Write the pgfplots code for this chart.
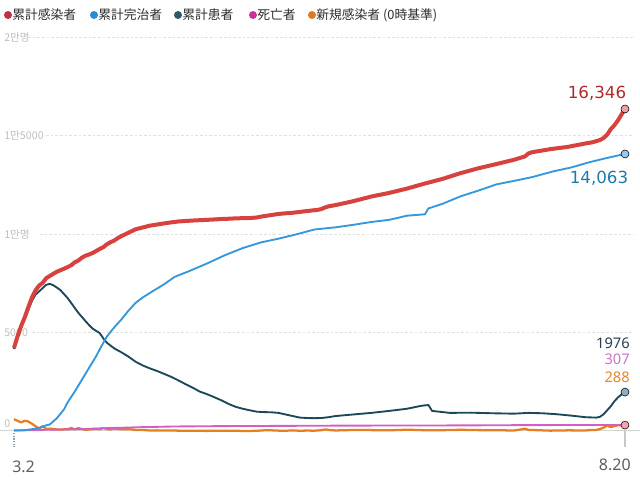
\documentclass[border=0pt]{standalone}
\usepackage{pgfplots}
\pgfplotsset{compat=1.18}
\usepackage{fontspec}
\setmainfont{Noto Sans}
\newfontfamily\jp{Noto Sans CJK JP}
\newfontfamily\kr{Noto Sans CJK KR}
\newfontfamily\dv{DejaVu Sans}
\definecolor{cRed}{RGB}{215,65,62}
\definecolor{cRedL}{RGB}{178,40,45}
\definecolor{cBlue}{RGB}{52,152,219}
\definecolor{cBlueL}{RGB}{31,122,172}
\definecolor{cDark}{RGB}{28,72,90}
\definecolor{cDarkL}{RGB}{40,62,80}
\definecolor{cPink}{RGB}{210,95,195}
\definecolor{cPinkL}{RGB}{205,115,200}
\definecolor{cOrange}{RGB}{230,126,34}
\definecolor{cOrangeL}{RGB}{225,135,45}
\definecolor{dRed}{RGB}{190,50,70}
\definecolor{dBlue}{RGB}{40,140,210}
\definecolor{dTeal}{RGB}{45,90,105}
\definecolor{dMag}{RGB}{200,50,160}
\definecolor{dOr}{RGB}{225,120,30}
\definecolor{gridc}{RGB}{225,225,225}
\definecolor{basec}{RGB}{210,210,210}
\definecolor{labc}{RGB}{190,190,190}
\definecolor{tickA}{RGB}{140,160,175}
\definecolor{tickB}{RGB}{200,200,200}
\definecolor{axtext}{RGB}{95,95,95}
\definecolor{legtext}{RGB}{45,45,45}
\definecolor{mRed}{RGB}{240,160,160}
\definecolor{mBlue}{RGB}{150,200,240}
\definecolor{mDark}{RGB}{140,175,200}
\definecolor{mPink}{RGB}{240,165,175}
\begin{document}
\begin{tikzpicture}
\path[use as bounding box, x=0.75pt, y=0.75pt] (0,0) rectangle (640,480);
\begin{scope}[x=0.75pt, y=0.75pt]
\draw[gridc, line width=0.75pt, dash pattern=on 2pt off 1.5pt] (28,443) -- (634,443);
\draw[gridc, line width=0.75pt, dash pattern=on 2pt off 1.5pt] (46,344.5) -- (634,344.5);
\draw[gridc, line width=0.75pt, dash pattern=on 2pt off 1.5pt] (40,246) -- (634,246);
\draw[gridc, line width=0.75pt, dash pattern=on 2pt off 1.5pt] (32,147.5) -- (634,147.5);
\draw[basec, line width=0.8pt] (0,49.5) -- (640,49.5);
\node[anchor=west, inner sep=0, text=labc, font=\kr\fontsize{8pt}{8.5pt}\selectfont] at (4,443) {2만명};
\node[anchor=west, inner sep=0, text=labc, font=\kr\fontsize{8pt}{8.5pt}\selectfont] at (4,344.5) {1만5000};
\node[anchor=west, inner sep=0, text=labc, font=\kr\fontsize{8pt}{8.5pt}\selectfont] at (4,246) {1만명};
\node[anchor=west, inner sep=0, text=labc, font=\kr\fontsize{8pt}{8.5pt}\selectfont] at (4,147.5) {5000};
\node[anchor=west, inner sep=0, text=labc, font=\kr\fontsize{8pt}{8.5pt}\selectfont] at (4,56) {0};
\draw[tickA, line width=0.9pt, dash pattern=on 1pt off 1pt] (14,47) -- (14,33);
\draw[tickB, line width=0.9pt] (625,49) -- (625,33);
\node[anchor=west, inner sep=0, text=axtext, font=\fontsize{12pt}{13pt}\selectfont] at (12,13) {3.2};
\node[anchor=east, inner sep=0, text=axtext, font=\fontsize{12pt}{13pt}\selectfont] at (631,15) {8.20};
\fill[dRed] (8,465) circle (4);
\node[anchor=west, inner sep=0, text=legtext, font=\jp\fontsize{9.6pt}{10pt}\selectfont] at (12,465) {累計感染者};
\fill[dBlue] (94,465) circle (4);
\node[anchor=west, inner sep=0, text=legtext, font=\jp\fontsize{9.6pt}{10pt}\selectfont] at (98,465) {累計完治者};
\fill[dTeal] (178,465) circle (4);
\node[anchor=west, inner sep=0, text=legtext, font=\jp\fontsize{9.6pt}{10pt}\selectfont] at (182,465) {累計患者};
\fill[dMag] (253,465) circle (4);
\node[anchor=west, inner sep=0, text=legtext, font=\jp\fontsize{9.6pt}{10pt}\selectfont] at (257,465) {死亡者};
\fill[dOr] (312,465) circle (4);
\node[anchor=west, inner sep=0, text=legtext, font=\jp\fontsize{9.6pt}{10pt}\selectfont] at (316,465) {新規感染者 (0時基準)};
\node[inner sep=0, text=cRedL, font=\dv\fontsize{12.5pt}{13pt}\selectfont] at (597,387) {16,346};
\node[inner sep=0, text=cBlueL, font=\dv\fontsize{12.5pt}{13pt}\selectfont] at (599,302) {14,063};
\node[anchor=east, inner sep=0, text=cDarkL, font=\fontsize{11pt}{12pt}\selectfont] at (630,137) {1976};
\node[anchor=east, inner sep=0, text=cPinkL, font=\fontsize{11pt}{12pt}\selectfont] at (630,121) {307};
\node[anchor=east, inner sep=0, text=cOrangeL, font=\fontsize{11pt}{12pt}\selectfont] at (630,103) {288};
\end{scope}
\begin{axis}[at={(10.5pt,36.75pt)}, anchor=south west, scale only axis,
  width=458.25pt, height=295.5pt, xmin=0, xmax=171, ymin=0, ymax=20000,
  axis lines=none, xtick=\empty, ytick=\empty, clip=false]
\addplot[cOrange, line width=1.7pt, line join=round] coordinates {
(0,600)(1,516)(2,438)(3,518)(4,483)(5,367)(6,248)(7,131)(8,242)(9,114)(10,110)(11,107)(12,76)(13,74)(14,84)(15,93)(16,152)(17,87)(18,147)(19,98)(20,64)(21,76)(22,100)(23,104)(24,91)(25,146)(26,105)(27,78)(28,125)(29,101)(30,89)(31,86)(32,94)(33,81)(34,47)(35,47)(36,53)(37,39)(38,27)(39,30)(40,32)(41,25)(42,27)(43,27)(44,22)(45,22)(46,18)(47,8)(48,13)(50,9)(52,11)(54,6)(56,10)(58,9)(60,9)(62,13)(64,3)(66,2)(68,12)(70,34)(72,35)(74,19)(76,13)(78,32)(80,12)(82,23)(84,16)(86,40)(87,79)(88,58)(89,39)(90,27)(92,38)(95,51)(100,45)(105,34)(110,67)(115,39)(120,42)(125,61)(130,45)(135,39)(140,26)(143,113)(144,58)(150,18)(155,33)(160,28)(162,54)(163,56)(164,103)(165,166)(166,279)(167,197)(168,246)(169,297)(171,288)
};
\addplot[cPink, line width=1.4pt, line join=round] coordinates {
(0,22)(5,44)(10,67)(15,81)(20,104)(25,139)(30,165)(35,192)(40,211)(45,230)(50,237)(55,244)(60,250)(65,255)(70,256)(80,264)(90,271)(100,276)(110,280)(120,282)(130,288)(140,296)(150,301)(160,305)(171,307)
};
\addplot[cDark, line width=1.4pt, line join=round] coordinates {
(0,4159)(1,4751)(2,5262)(3,5690)(4,6134)(5,6593)(6,6918)(7,7084)(8,7250)(9,7420)(10,7470)(11,7400)(12,7280)(13,7150)(14,6950)(15,6750)(16,6500)(17,6250)(18,6000)(19,5790)(20,5580)(21,5380)(22,5200)(23,5080)(24,4970)(25,4700)(26,4480)(28,4200)(30,4000)(32,3780)(34,3520)(36,3330)(38,3180)(40,3050)(42,2900)(44,2750)(46,2570)(48,2380)(50,2200)(52,2000)(54,1870)(56,1720)(58,1560)(60,1380)(62,1230)(64,1130)(66,1050)(68,980)(70,960)(72,950)(74,920)(76,840)(78,760)(80,680)(82,660)(84,650)(86,660)(88,700)(90,760)(95,840)(100,920)(105,1020)(110,1130)(114,1280)(116,1320)(117,1020)(120,960)(122,920)(128,930)(134,900)(140,880)(144,920)(148,900)(152,850)(156,780)(160,700)(163,680)(164,720)(165,850)(166,1050)(167,1250)(168,1500)(169,1700)(170,1850)(171,1976)
};
\addplot[cBlue, line width=1.4pt, line join=round] coordinates {
(0,31)(3,40)(5,90)(7,150)(9,290)(10,330)(12,650)(14,1100)(15,1450)(17,2000)(19,2600)(21,3200)(23,3800)(24,4150)(26,4800)(28,5250)(30,5650)(32,6100)(34,6500)(36,6776)(39,7117)(42,7447)(45,7829)(49,8114)(54,8501)(59,8922)(64,9283)(69,9568)(74,9762)(79,9980)(84,10226)(90,10340)(95,10467)(100,10611)(105,10718)(110,10930)(115,11000)(116,11300)(120,11537)(125,11914)(130,12204)(135,12519)(140,12698)(145,12888)(151,13183)(156,13380)(161,13642)(166,13863)(171,14063)
};
\addplot[cRed, line width=3pt, line join=round] coordinates {
(0,4212)(1,4812)(2,5328)(3,5766)(4,6284)(5,6767)(6,7134)(7,7382)(8,7513)(9,7755)(10,7869)(11,7979)(12,8086)(13,8162)(14,8236)(15,8320)(16,8413)(17,8565)(18,8652)(19,8799)(20,8897)(21,8961)(22,9037)(23,9137)(24,9241)(25,9332)(26,9478)(27,9583)(28,9661)(29,9786)(30,9887)(32,10062)(34,10237)(36,10331)(38,10423)(40,10480)(42,10537)(44,10591)(46,10635)(48,10661)(50,10683)(52,10702)(54,10718)(56,10738)(58,10761)(60,10774)(62,10793)(64,10804)(66,10810)(68,10840)(70,10909)(72,10962)(74,11018)(76,11050)(78,11078)(80,11122)(82,11165)(84,11206)(85,11225)(86,11265)(87,11344)(88,11402)(90,11468)(95,11668)(100,11902)(105,12085)(110,12306)(115,12563)(120,12800)(125,13091)(130,13338)(135,13551)(140,13771)(143,13938)(144,14092)(145,14150)(150,14305)(155,14423)(160,14598)(162,14660)(163,14714)(164,14770)(165,14873)(166,15039)(167,15318)(168,15515)(169,15761)(170,16058)(171,16346)
};
\addplot[only marks, mark=*, mark size=3pt, draw=none, fill=mPink] coordinates {(171,300)};
\addplot[only marks, mark=*, mark size=3pt, draw=none, fill=mDark] coordinates {(171,1976)};
\addplot[only marks, mark=*, mark size=3pt, draw=none, fill=mBlue] coordinates {(171,14063)};
\addplot[only marks, mark=*, mark size=3pt, draw=none, fill=mRed] coordinates {(171,16346)};
\end{axis}
\end{tikzpicture}
\end{document}
